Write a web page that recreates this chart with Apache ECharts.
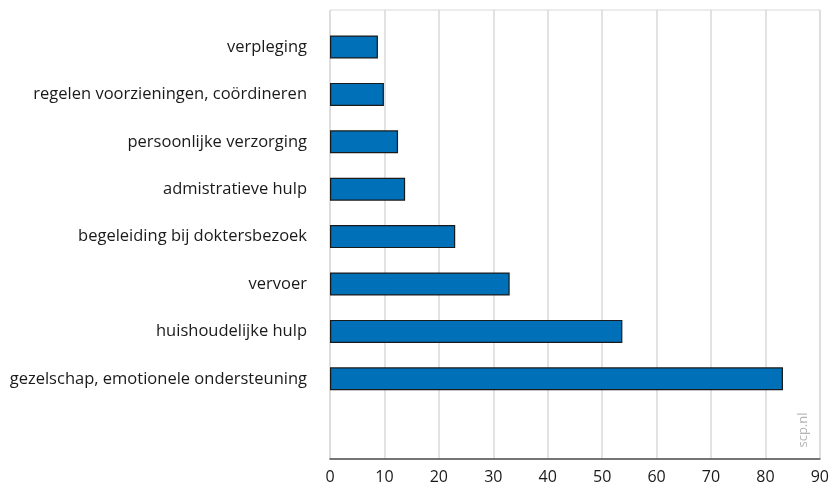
<!DOCTYPE html>
<html lang="nl">
<head>
  <meta charset="UTF-8">
  <script src="https://cdn.jsdelivr.net/npm/echarts@6/dist/echarts.min.js"></script>
  <title>Hulp</title>
  <style>
    html, body { margin: 0; padding: 0; background: #fff; }
  </style>
</head>
<body>
  <div id="main" style="width: 832px;height:490px;"></div>
  <script type="text/javascript">
    // categorieen, van boven naar beneden (laatste slot blijft leeg)
    var categories = [
      'verpleging',
      'regelen voorzieningen, coördineren',
      'persoonlijke verzorging',
      'admistratieve hulp',
      'begeleiding bij doktersbezoek',
      'vervoer',
      'huishoudelijke hulp',
      'gezelschap, emotionele ondersteuning',
      ''
    ];
    var values = [8.8, 9.9, 12.5, 13.8, 23.0, 33.0, 53.7, 83.2, null];
    var xTicks = [0, 10, 20, 30, 40, 50, 60, 70, 80, 90];

    var myChart = echarts.init(document.getElementById('main'));
    var font = '"Open Sans", sans-serif';

    var option = {
      animation: false,
      grid: [
        // frame: gridlines, axis and tick labels
        { left: 330, right: 12, top: 10, bottom: 31, show: true, borderColor: '#d9d9d9', borderWidth: 1 },
        // bars
        { left: 330, right: 12, top: 23.3, height: 426.6 }
      ],
      xAxis: [
        {
          gridIndex: 0, type: 'value', min: xTicks[0], max: xTicks[xTicks.length - 1], interval: 10,
          axisLine: { show: true, lineStyle: { color: '#4d4d4d', width: 1.5 } },
          axisTick: { show: false },
          axisLabel: { color: '#1a1a1a', fontFamily: font, fontSize: 16, margin: 10 },
          splitLine: { show: true, lineStyle: { color: '#d9d9d9', width: 1.5 } }
        },
        {
          gridIndex: 1, type: 'value', min: xTicks[0], max: xTicks[xTicks.length - 1],
          show: false
        }
      ],
      yAxis: [
        { gridIndex: 0, type: 'value', min: 0, max: 1, show: false },
        {
          gridIndex: 1, type: 'category', data: categories, inverse: true,
          axisLine: { show: false },
          axisTick: { show: false },
          axisLabel: { color: '#1a1a1a', fontFamily: font, fontSize: 16.5, margin: 23 }
        }
      ],
      graphic: [
        {
          type: 'text', x: 803, y: 430, rotation: Math.PI / 2,
          style: { text: 'scp.nl', fill: '#b3b3b3', font: '13px ' + font, align: 'center', verticalAlign: 'middle' }
        }
      ],
      series: [
        {
          type: 'bar', xAxisIndex: 1, yAxisIndex: 1,
          data: values, barWidth: 23,
          itemStyle: { color: '#0070b8', borderColor: '#1a1a1a', borderWidth: 1.2 }
        }
      ]
    };
    myChart.setOption(option);
  </script>
</body>
</html>
